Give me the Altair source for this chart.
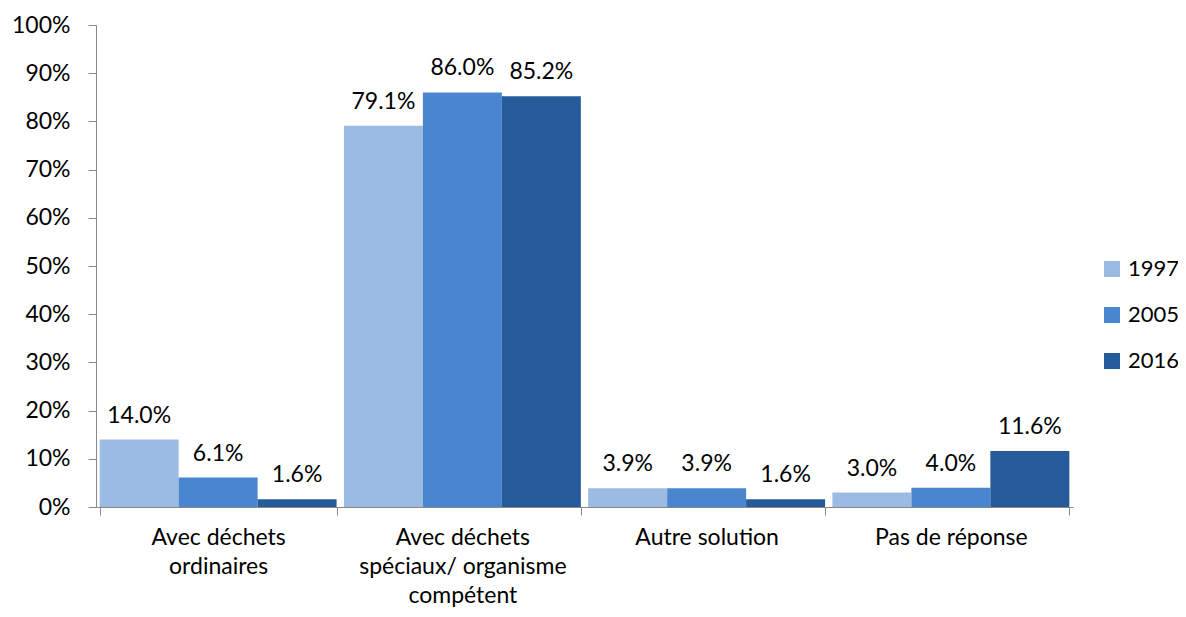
import altair as alt
import pandas as pd

categories = ["Avec déchets|ordinaires", "Avec déchets|spéciaux/ organisme|compétent", "Autre solution", "Pas de réponse"]
years = ["1997", "2005", "2016"]
v1997 = [0.140, 0.791, 0.039, 0.030]
v2005 = [0.061, 0.860, 0.039, 0.040]
v2016 = [0.016, 0.852, 0.016, 0.116]
colors = ["#9BBBE3", "#4A86D0", "#265B9B"]

rows = []
for yr, vals in zip(years, [v1997, v2005, v2016]):
    for c, v in zip(categories, vals):
        rows.append({"cat": c, "year": yr, "value": v})
df = pd.DataFrame(rows)

FONT = "Lato"
FS = 23

x = alt.X("cat:N", sort=categories, title=None,
          scale=alt.Scale(paddingInner=0.03, paddingOuter=0.015),
          axis=alt.Axis(labelExpr="split(datum.label, '|')", labelAngle=0, labelLimit=0,
                        tickBand="extent", tickSize=8, labelPadding=11,
                        labelLineHeight=29, labelFontSize=FS, labelColor="#000",
                        labelFont=FONT, domainColor="#888", tickColor="#888"))
xo = alt.XOffset("year:N", sort=years, scale=alt.Scale(paddingInner=0, paddingOuter=0))
y = alt.Y("value:Q", title=None,
          scale=alt.Scale(domain=[0, 1]),
          axis=alt.Axis(format=".0%", values=[i / 10 for i in range(11)], grid=False,
                        tickSize=8, labelPadding=18, labelFontSize=FS, labelColor="#000",
                        labelFont=FONT, domainColor="#888", tickColor="#888"))

bars = alt.Chart(df).mark_bar().encode(
    x=x, xOffset=xo, y=y,
    color=alt.Color("year:N", sort=years,
                    scale=alt.Scale(domain=years, range=colors),
                    legend=alt.Legend(title=None, orient="none", legendX=1005, legendY=233,
                                      symbolType="square", symbolSize=256, symbolStrokeWidth=0,
                                      labelFontSize=22, labelFont=FONT, labelColor="#000",
                                      rowPadding=24, labelOffset=5, labelLimit=0)),
)
labels = alt.Chart(df).mark_text(baseline="alphabetic", dy=-17, fontSize=FS, font=FONT, color="#000").encode(
    x=x, xOffset=xo, y=y, text=alt.Text("value:Q", format=".1%"),
)

chart = (bars + labels).properties(
    width=977, height=482,
    autosize=alt.AutoSizeParams(type="none"),
    padding={"left": 88, "top": 17, "right": 105, "bottom": 102},
).configure_view(stroke=None)

chart.save("out.html", embed_options={"renderer": "svg", "actions": False})
